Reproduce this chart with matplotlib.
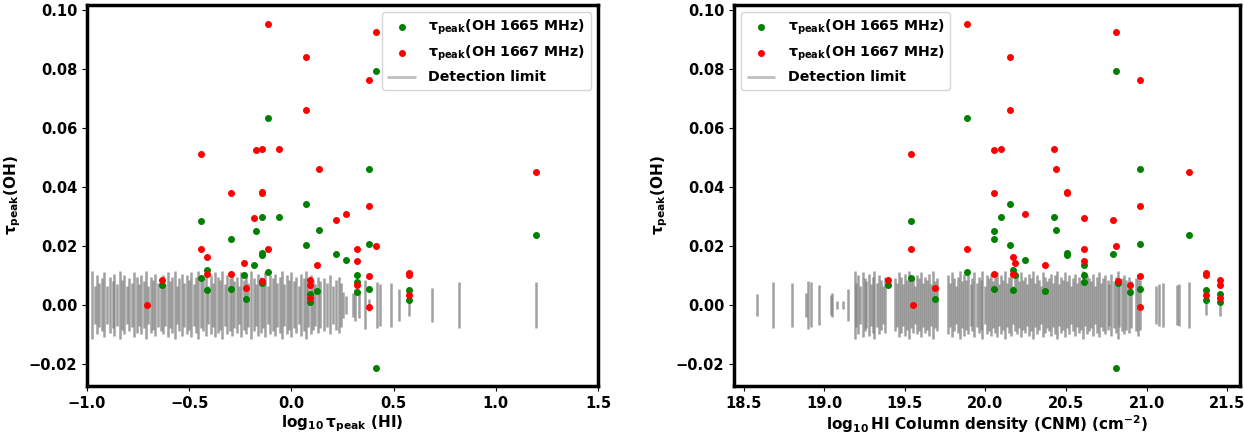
import numpy as np
import matplotlib
matplotlib.use("Agg")
import matplotlib.pyplot as plt

plt.rcParams['font.weight'] = 'bold'
plt.rcParams['axes.labelweight'] = 'bold'
plt.rcParams['mathtext.default'] = 'bf'
plt.rcParams['font.size'] = 10.5

##############################################
# OH absorption peaks, one row per component
# log10 tau_peak(HI), log10 N(HI) CNM, tau 1665, tau 1667
tau_hi = [-0.706, -0.633, -0.444, -0.444, -0.415, -0.415, -0.297, -0.297,
          -0.232, -0.221, -0.183, -0.175, -0.144, -0.144, -0.144, -0.144,
          -0.113, -0.113, -0.059, 0.070, 0.070, 0.091, 0.091, 0.091,
          0.125, 0.133, 0.216, 0.265, 0.319, 0.319, 0.321, 0.381,
          0.381, 0.381, 0.381, 0.415, 0.415, 0.575, 0.575, 0.575, 1.198]
nhi = [19.552, 19.396, 19.539, 19.539, 20.173, 20.173, 20.051, 20.051,
       20.183, 19.688, 20.610, 20.055, 20.096, 20.508, 20.508, 20.825,
       19.885, 19.885, 20.424, 20.150, 20.150, 21.457, 21.457, 21.457,
       20.370, 20.440, 20.794, 20.247, 20.610, 20.610, 20.898, 20.961,
       20.961, 20.961, 20.961, 20.812, 20.812, 21.368, 21.368, 21.368, 21.262]
tau1665 = [np.nan, 0.0067, 0.0286, 0.0090, 0.0119, 0.0050, 0.0223, 0.0054,
           0.0102, 0.0020, 0.0134, 0.0252, 0.0297, 0.0175, 0.0168, 0.0073,
           0.0633, 0.0110, 0.0299, 0.0343, 0.0203, 0.0038, 0.0009, np.nan,
           0.0046, 0.0253, 0.0171, 0.0151, 0.0101, 0.0079, 0.0045, 0.0462,
           0.0207, 0.0054, np.nan, 0.0794, -0.0215, 0.0049, 0.0018, np.nan, 0.0236]
tau1667 = [0.0000, 0.0086, 0.0511, 0.0188, 0.0162, 0.0106, 0.0381, 0.0104,
           0.0143, 0.0059, 0.0294, 0.0525, 0.0528, 0.0383, 0.0378, 0.0082,
           0.0954, 0.0191, 0.0528, 0.0841, 0.0662, 0.0085, 0.0069, 0.0025,
           0.0134, 0.0460, 0.0288, 0.0308, 0.0190, 0.0150, 0.0068, 0.0762,
           0.0337, 0.0098, -0.0006, 0.0925, 0.0201, 0.0107, 0.0103, 0.0033, 0.0451]

# detection limits (3 sigma) of non-detections, left panel: log10 tau_peak(HI)
lim_tau_x = [-0.975, -0.962, -0.950, -0.940, -0.925, -0.915, -0.900, -0.888, -0.875, -0.866,
             -0.852, -0.840, -0.830, -0.818, -0.805, -0.795, -0.780, -0.770, -0.757, -0.745,
             -0.735, -0.722, -0.710, -0.700, -0.688, -0.675, -0.665, -0.652, -0.640, -0.628,
             -0.618, -0.605, -0.595, -0.582, -0.570, -0.560, -0.548, -0.535, -0.525, -0.512,
             -0.500, -0.490, -0.478, -0.465, -0.455, -0.442, -0.430, -0.420, -0.408, -0.395,
             -0.385, -0.372, -0.360, -0.350, -0.338, -0.325, -0.315, -0.302, -0.290, -0.280,
             -0.268, -0.255, -0.245, -0.232, -0.220, -0.210, -0.198, -0.185, -0.175, -0.162,
             -0.150, -0.140, -0.128, -0.115, -0.105, -0.092, -0.080, -0.070, -0.058, -0.045,
             -0.035, -0.022, -0.010, 0.000, 0.012, 0.025, 0.035, 0.048, 0.060, 0.070,
             0.082, 0.095, 0.105, 0.118, 0.130, 0.140, 0.158, 0.172, 0.190, 0.205,
             0.218, 0.232, 0.245, 0.255, 0.265, 0.300, 0.310, 0.330, 0.360, 0.380,
             0.417, 0.436, 0.489, 0.525, 0.575, 0.689, 0.821, 1.198]
lim_tau_h = [0.0115, 0.0065, 0.0100, 0.0075, 0.0090, 0.0110, 0.0065, 0.0095, 0.0080, 0.0105,
             0.0070, 0.0115, 0.0085, 0.0100, 0.0065, 0.0090, 0.0075, 0.0110, 0.0095, 0.0070,
             0.0100, 0.0080, 0.0115, 0.0065, 0.0095, 0.0085, 0.0105, 0.0075, 0.0090, 0.0100,
             0.0070, 0.0110, 0.0080, 0.0095, 0.0115, 0.0065, 0.0090, 0.0105, 0.0075, 0.0100,
             0.0085, 0.0110, 0.0070, 0.0095, 0.0115, 0.0080, 0.0090, 0.0105, 0.0065, 0.0100,
             0.0075, 0.0110, 0.0095, 0.0085, 0.0115, 0.0070, 0.0100, 0.0090, 0.0105, 0.0080,
             0.0095, 0.0065, 0.0110, 0.0085, 0.0100, 0.0075, 0.0115, 0.0090, 0.0070, 0.0105,
             0.0095, 0.0080, 0.0110, 0.0065, 0.0100, 0.0090, 0.0105, 0.0075, 0.0095, 0.0115,
             0.0070, 0.0100, 0.0085, 0.0110, 0.0080, 0.0095, 0.0065, 0.0105, 0.0090, 0.0115,
             0.0075, 0.0100, 0.0085, 0.0070, 0.0095, 0.0080, 0.0090, 0.0075, 0.0100, 0.0065,
             0.0085, 0.0095, 0.0074, 0.0045, 0.0030, 0.0040, 0.0055, 0.0045, 0.0083, 0.0020,
             0.0078, 0.0070, 0.0075, 0.0055, 0.0037, 0.0058, 0.0078, 0.0077]

# right panel: log10 N(HI) CNM
lim_nhi_x = [18.585, 18.684, 18.800, 18.885, 18.900, 18.915, 18.970, 19.040, 19.050, 19.080,
             19.117, 19.150, 19.190, 19.200, 19.212, 19.225, 19.238, 19.250, 19.262, 19.275,
             19.288, 19.300, 19.312, 19.325, 19.338, 19.350, 19.362, 19.375, 19.440, 19.452,
             19.465, 19.478, 19.490, 19.502, 19.515, 19.528, 19.540, 19.552, 19.565, 19.578,
             19.590, 19.602, 19.615, 19.628, 19.640, 19.652, 19.665, 19.678, 19.690, 19.702,
             19.770, 19.782, 19.795, 19.808, 19.820, 19.832, 19.845, 19.858, 19.870, 19.882,
             19.895, 19.908, 19.920, 19.932, 19.945, 19.958, 19.970, 19.982, 19.995, 20.008,
             20.020, 20.032, 20.045, 20.058, 20.070, 20.082, 20.095, 20.108, 20.120, 20.132,
             20.145, 20.158, 20.170, 20.182, 20.195, 20.208, 20.220, 20.232, 20.245, 20.258,
             20.270, 20.282, 20.295, 20.308, 20.320, 20.332, 20.345, 20.358, 20.370, 20.382,
             20.395, 20.408, 20.420, 20.432, 20.445, 20.458, 20.470, 20.482, 20.495, 20.508,
             20.520, 20.532, 20.545, 20.558, 20.570, 20.582, 20.595, 20.608, 20.620, 20.632,
             20.645, 20.658, 20.670, 20.682, 20.695, 20.708, 20.720, 20.732, 20.745, 20.758,
             20.770, 20.782, 20.795, 20.808, 20.820, 20.832, 20.845, 20.858, 20.870, 20.890,
             20.905, 20.935, 20.948, 20.962, 21.060, 21.075, 21.100, 21.190, 21.200, 21.262,
             21.368, 21.457]
lim_nhi_h = [0.0038, 0.0078, 0.0074, 0.0040, 0.0082, 0.0076, 0.0068, 0.0035, 0.0040, 0.0013,
             0.0013, 0.0055, 0.0115, 0.0075, 0.0100, 0.0065, 0.0110, 0.0090, 0.0080, 0.0105,
             0.0070, 0.0095, 0.0115, 0.0075, 0.0100, 0.0085, 0.0065, 0.0095, 0.0090, 0.0075,
             0.0110, 0.0095, 0.0070, 0.0105, 0.0085, 0.0115, 0.0080, 0.0095, 0.0065, 0.0100,
             0.0090, 0.0110, 0.0075, 0.0095, 0.0085, 0.0105, 0.0070, 0.0115, 0.0080, 0.0090,
             0.0100, 0.0075, 0.0110, 0.0090, 0.0065, 0.0095, 0.0115, 0.0080, 0.0105, 0.0085,
             0.0100, 0.0070, 0.0090, 0.0110, 0.0075, 0.0095, 0.0085, 0.0115, 0.0065, 0.0100,
             0.0090, 0.0105, 0.0080, 0.0095, 0.0110, 0.0070, 0.0100, 0.0085, 0.0115, 0.0075,
             0.0095, 0.0105, 0.0065, 0.0090, 0.0100, 0.0080, 0.0110, 0.0085, 0.0095, 0.0070,
             0.0105, 0.0090, 0.0115, 0.0075, 0.0100, 0.0085, 0.0065, 0.0110, 0.0095, 0.0080,
             0.0090, 0.0105, 0.0075, 0.0100, 0.0115, 0.0070, 0.0095, 0.0085, 0.0110, 0.0080,
             0.0100, 0.0065, 0.0090, 0.0105, 0.0075, 0.0095, 0.0085, 0.0115, 0.0070, 0.0100,
             0.0090, 0.0080, 0.0105, 0.0065, 0.0095, 0.0110, 0.0075, 0.0090, 0.0100, 0.0085,
             0.0070, 0.0105, 0.0080, 0.0095, 0.0115, 0.0075, 0.0090, 0.0100, 0.0085, 0.0095,
             0.0080, 0.0090, 0.0105, 0.0085, 0.0065, 0.0070, 0.0075, 0.0068, 0.0072, 0.0077,
             0.0035, 0.0037]

xlabels = [r'$\log_{10}\tau_{peak}$ (HI)',
           r'$\log_{10}$HI Column density (CNM) (cm$^{-2}$)']
ylabel = r'$\tau_{peak}$(OH)'


def draw_panel(ax, xs, lim_x, lim_h, legend_loc):
    ax.scatter(xs, tau1665, s=16, color='green', zorder=3,
               label=r'$\tau_{peak}$(OH 1665 MHz)')
    ax.scatter(xs, tau1667, s=16, color='red', zorder=3,
               label=r'$\tau_{peak}$(OH 1667 MHz)')
    h = np.array(lim_h)
    ax.vlines(lim_x, -h, h, color='gray', alpha=0.75, lw=1.8,
              label='Detection limit', zorder=2)
    ax.set_ylim(-0.0275, 0.1017)
    ax.set_ylabel(ylabel, fontsize=11)
    leg = ax.legend(loc=legend_loc, fontsize=10.2, handletextpad=0.9,
                    borderaxespad=0.5)
    leg.legend_handles[2].set_linewidth(2)
    leg.legend_handles[2].set_alpha(0.5)
    for s in ax.spines.values():
        s.set_linewidth(2.5)
    ax.tick_params(labelsize=10.5)


fig = plt.figure(figsize=(12.44, 4.37), dpi=100)
ax1 = fig.add_axes([0.0699, 0.1167, 0.4108, 0.8719])
ax2 = fig.add_axes([0.590, 0.1167, 0.4068, 0.8719])

draw_panel(ax1, tau_hi, lim_tau_x, lim_tau_h, 'upper right')
ax1.set_xlim(-1.0, 1.5)
ax1.set_xlabel(xlabels[0], fontsize=11, labelpad=2)

draw_panel(ax2, nhi, lim_nhi_x, lim_nhi_h, 'upper left')
ax2.set_xlim(18.44, 21.58)
ax2.set_xlabel(xlabels[1], fontsize=11, labelpad=2)

fig.savefig('out.png', dpi=100)
